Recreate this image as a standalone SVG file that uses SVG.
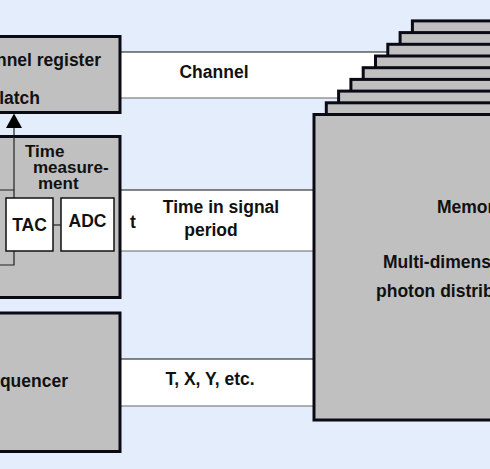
<svg xmlns="http://www.w3.org/2000/svg" width="490" height="469" viewBox="0 0 490 469">
  <defs>
    <style>
      .blk { fill: #c0c0c0; stroke: #0a0a14; stroke-width: 3; }
      .wht { fill: #ffffff; stroke: #111; stroke-width: 1.5; }
      .band { fill: #ffffff; stroke: none; }
      .bt { stroke: #111; stroke-width: 1.2; }
      .bb { stroke: #666; stroke-width: 1.2; }
      .thin { fill: none; stroke: #222; stroke-width: 1.2; }
      .head { fill: #000; stroke: none; }
      text { font-family: "Liberation Sans", Arial, sans-serif; font-weight: bold; font-size: 17.5px; fill: #111; }
      .tm { font-size: 17px; }
    </style>
  </defs>
  <rect x="0" y="0" width="490" height="469" fill="#e4edfb"/>

  <g id="connectors">
    <g id="bus-channel">
      <rect class="band" x="121" y="52" width="300" height="46"/>
      <line class="bt" x1="121" y1="52" x2="421" y2="52"/>
      <line class="bb" x1="121" y1="98" x2="421" y2="98"/>
      <text x="214" y="78" text-anchor="middle">Channel</text>
    </g>
    <g id="bus-time">
      <rect class="band" x="121" y="190" width="195" height="61"/>
      <line class="bt" x1="121" y1="190" x2="316" y2="190"/>
      <line class="bb" x1="121" y1="251" x2="316" y2="251"/>
      <text x="130" y="228">t</text>
      <text x="221" y="213" text-anchor="middle">Time in signal</text>
      <text x="211" y="236" text-anchor="middle">period</text>
    </g>
    <g id="bus-seq">
      <rect class="band" x="121" y="359" width="195" height="47"/>
      <line class="bt" x1="121" y1="359" x2="316" y2="359"/>
      <line class="bb" x1="121" y1="406" x2="316" y2="406"/>
      <text x="210" y="385" text-anchor="middle">T, X, Y, etc.</text>
    </g>
    <g id="latch-arrow">
      <line class="thin" x1="14" y1="190" x2="14" y2="127"/>
      <polygon class="head" points="14,113.5 6,128 22,128"/>
    </g>
  </g>

  <g id="memory">
    <rect class="blk" x="412.4" y="20.9" width="120" height="305.5"/>
    <rect class="blk" x="400.1" y="32.6" width="120" height="305.5"/>
    <rect class="blk" x="387.8" y="44.3" width="120" height="305.5"/>
    <rect class="blk" x="375.5" y="56" width="140" height="305.5"/>
    <rect class="blk" x="363.2" y="67.7" width="140" height="305.5"/>
    <rect class="blk" x="350.9" y="79.4" width="160" height="305.5"/>
    <rect class="blk" x="338.6" y="91.1" width="170" height="305.5"/>
    <rect class="blk" x="326.3" y="102.8" width="180" height="305.5"/>
    <rect class="blk" x="314" y="114.5" width="200" height="305.5"/>
    <text x="437" y="213">Memor</text>
    <text x="383" y="268">Multi-dimens</text>
    <text x="376" y="297">photon distrib</text>
  </g>

  <g id="channel-register">
    <rect class="blk" x="-10" y="36.5" width="130" height="76"/>
    <text x="101" y="66" text-anchor="end">nnel register</text>
    <text x="40" y="104" text-anchor="end">latch</text>
  </g>

  <g id="time-measurement">
    <rect class="blk" x="-10" y="136.5" width="130" height="161"/>
    <text class="tm" x="25" y="157">Time</text>
    <text class="tm" x="33" y="173">measure-</text>
    <text class="tm" x="38" y="189">ment</text>
    <path class="thin" d="M-5,190 H14 V265 H-5"/>
    <line class="thin" x1="14" y1="137" x2="14" y2="190"/>
    <g id="tac">
      <rect class="wht" x="6" y="198" width="47" height="53"/>
      <text x="29.5" y="231" text-anchor="middle">TAC</text>
    </g>
    <g id="adc">
      <rect class="wht" x="61" y="198" width="53" height="53"/>
      <text x="87.5" y="227" text-anchor="middle">ADC</text>
    </g>
    <line class="thin" x1="53" y1="225" x2="61" y2="225"/>
  </g>

  <g id="sequencer">
    <rect class="blk" x="-10" y="313" width="130" height="138.5"/>
    <text x="68" y="387" text-anchor="end">quencer</text>
  </g>
</svg>
